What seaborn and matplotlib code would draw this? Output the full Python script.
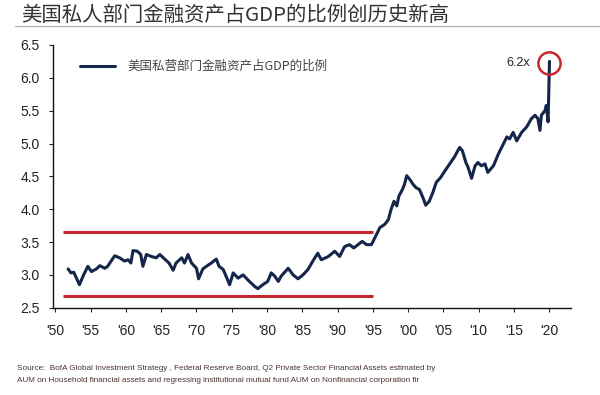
import pandas as pd
import matplotlib
matplotlib.use("Agg")
import matplotlib.pyplot as plt
import seaborn as sns
from matplotlib.lines import Line2D

# Values (ratio of private sector financial assets to GDP)
years = [
    1951.8, 1952.2, 1952.6, 1953.2, 1953.4, 1954.0, 1954.6, 1955.1, 1955.8, 1956.3,
    1957.0, 1957.4, 1957.9, 1958.4, 1959.1, 1959.8, 1960.3, 1960.7, 1961.0, 1961.6,
    1962.1, 1962.4, 1962.9, 1963.6, 1964.3, 1964.8, 1965.5, 1966.1, 1966.7, 1967.1,
    1967.9, 1968.3, 1968.8, 1969.3, 1970.0, 1970.3, 1970.9, 1971.4, 1972.1, 1972.8,
    1973.2, 1973.8, 1974.7, 1975.2, 1975.9, 1976.6, 1977.5, 1978.3, 1978.7, 1979.4,
    1980.1, 1980.6, 1981.1, 1981.6, 1982.0, 1983.0, 1983.7, 1984.4, 1985.1, 1985.8,
    1986.5, 1987.2, 1987.7, 1988.7, 1989.6, 1990.3, 1991.0, 1991.7, 1992.3, 1992.9,
    1993.5, 1994.1, 1994.8, 1995.5, 1996.0, 1996.7, 1997.2, 1997.6, 1998.0, 1998.4,
    1998.7, 1999.2, 1999.5, 1999.8, 2000.2, 2000.7, 2001.1, 2001.6, 2001.9, 2002.2,
    2002.5, 2003.0, 2003.5, 2004.0, 2004.6, 2005.2, 2005.9, 2006.6, 2007.3, 2007.7,
    2008.2, 2008.5, 2009.0, 2009.5, 2009.9, 2010.4, 2010.9, 2011.3, 2012.1, 2012.8,
    2013.5, 2014.0, 2014.4, 2014.9, 2015.4, 2016.1, 2016.8, 2017.5, 2018.0, 2018.4,
    2018.7, 2018.9, 2019.4, 2019.6, 2019.85, 2020.05,
]
ratio = [
    3.09, 3.03, 3.04, 2.90, 2.85, 3.00, 3.13, 3.05, 3.09, 3.14,
    3.10, 3.13, 3.21, 3.29, 3.26, 3.21, 3.23, 3.18, 3.37, 3.36,
    3.31, 3.13, 3.31, 3.28, 3.26, 3.31, 3.24, 3.18, 3.07, 3.18,
    3.26, 3.18, 3.31, 3.18, 3.10, 2.94, 3.09, 3.13, 3.18, 3.24,
    3.13, 3.08, 2.85, 3.03, 2.95, 3.00, 2.90, 2.82, 2.79, 2.85,
    2.90, 3.03, 2.98, 2.90, 2.98, 3.10, 3.00, 2.94, 3.00, 3.08,
    3.21, 3.33, 3.23, 3.28, 3.36, 3.28, 3.43, 3.46, 3.41, 3.46,
    3.51, 3.46, 3.46, 3.61, 3.72, 3.77, 3.84, 4.00, 4.12, 4.05,
    4.20, 4.30, 4.38, 4.51, 4.46, 4.38, 4.33, 4.30, 4.23, 4.15,
    4.06, 4.12, 4.25, 4.41, 4.48, 4.58, 4.69, 4.80, 4.94, 4.89,
    4.71, 4.64, 4.47, 4.66, 4.71, 4.66, 4.69, 4.56, 4.66, 4.84,
    4.99, 5.10, 5.07, 5.17, 5.04, 5.17, 5.25, 5.38, 5.43, 5.38,
    5.20, 5.43, 5.50, 5.58, 5.33, 6.25,
]

# Old trading range marked by the two red lines
band_levels = [3.655, 2.685]
band_years = [1951.1, 1995.0]

peak_label = "6.2x"
x_ticks = list(range(1950, 2021, 5))
x_labels = ["'50", "'55", "'60", "'65", "'70", "'75", "'80", "'85",
            "'90", "'95", "'00", "'05", "'10", "'15", "'20"]
y_ticks = [2.5, 3.0, 3.5, 4.0, 4.5, 5.0, 5.5, 6.0, 6.5]

title = "美国私人部门金融资产占GDP的比例创历史新高"
series_name = "美国私营部门金融资产占GDP的比例"
source_lines = [
    "Source:  BofA Global Investment Strategy , Federal Reserve Board, Q2 Private Sector Financial Assets estimated by",
    "AUM on Household financial assets and regressing institutional mutual fund AUM on Nonfinancial corporation fir",
]

NAVY = "#14264a"
RED = "#c1272d"
NARROW = ["Liberation Sans Narrow", "Liberation Sans", "DejaVu Sans"]

sns.set_style("ticks")
plt.rcParams["font.family"] = ["Noto Sans CJK SC", "DejaVu Sans"]

df = pd.DataFrame({"year": years, "ratio": ratio})

fig = plt.figure(figsize=(6, 3.95), dpi=100)
ax = fig.add_axes([53.3 / 600, 1 - 307.7 / 395, (571 - 53.3) / 600, (307.7 - 45) / 395])

sns.lineplot(data=df, x="year", y="ratio", color=NAVY, lw=2.2, label=series_name, ax=ax)

# red range lines
ax.hlines(band_levels, band_years[0], band_years[1], color=RED, lw=2.2)

# circle the latest reading
ax.plot([years[-1] - 0.05], [ratio[-1] - 0.02], marker="o", ms=16, mfc="none",
        mec="#c8282e", mew=1.8, ls="none")
ax.text(2017.3, ratio[-1] - 0.02, peak_label, ha="right", va="center",
        fontsize=9, family=NARROW, color="#222222")

ax.set_xlim(1949.7, 2023.1)
ax.set_ylim(2.5, 6.5)
ax.set_xticks(x_ticks)
ax.set_xticklabels(x_labels, family=NARROW, fontsize=10, color="#222222")
ax.set_yticks(y_ticks)
ax.set_yticklabels([f"{v:.1f}" for v in y_ticks], family=NARROW, fontsize=10, color="#222222")
ax.tick_params(axis="x", length=3, pad=9, width=0.8)
ax.tick_params(axis="y", length=3, pad=7, width=0.8)
ax.set_xlabel("")
ax.set_ylabel("")
for side in ["top", "right"]:
    ax.spines[side].set_visible(False)
for side in ["left", "bottom"]:
    ax.spines[side].set_color("#111111")
    ax.spines[side].set_linewidth(1.0)

leg = ax.legend(loc="center left", bbox_to_anchor=(0.052, 0.918), frameon=False,
                borderpad=0, borderaxespad=0, handlelength=2.8, handletextpad=1.0,
                prop={"size": 9})
for t in leg.get_texts():
    t.set_color("#444444")

# title with grey rule below it
fig.text(21 / 600, 1 - 15 / 395, title, fontsize=14.7, color="#333333", ha="left", va="center")
fig.add_artist(Line2D([15 / 600, 1.0], [1 - 26 / 395, 1 - 26 / 395],
                      transform=fig.transFigure, color="#b5b5b5", lw=1))

for i, line in enumerate(source_lines):
    fig.text(17 / 600, 1 - (368 + 13 * i) / 395, line, fontsize=5.9, family=NARROW,
             color="#4a3530", ha="left", va="center")

fig.savefig("out.png", dpi=100)
